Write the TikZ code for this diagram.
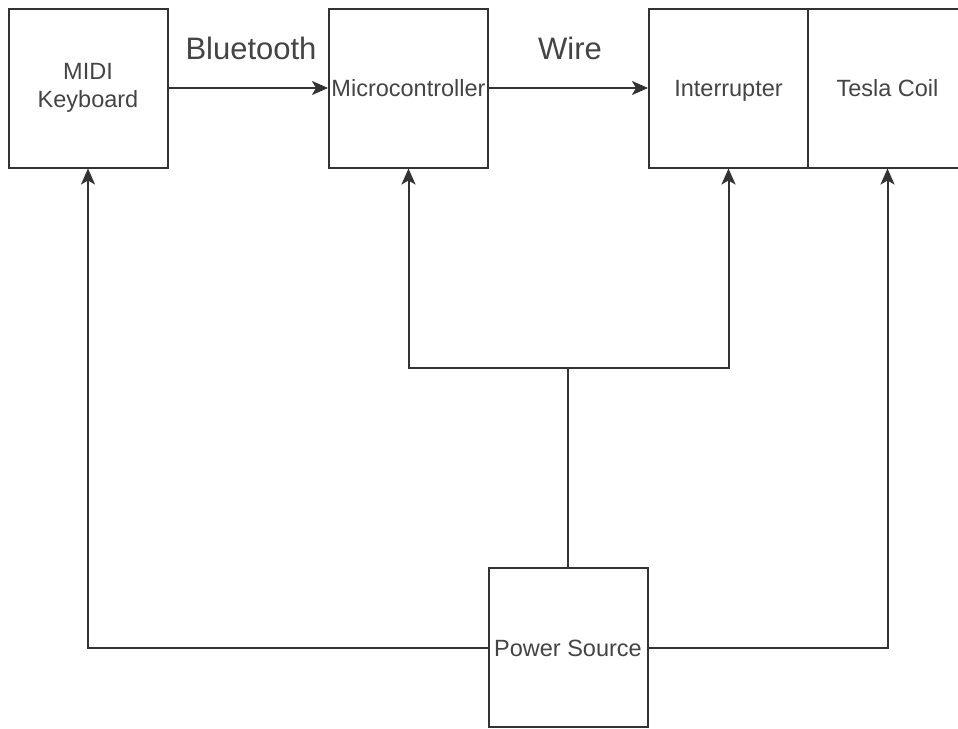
\documentclass[tikz,border=0pt]{standalone}
\usepackage{fontspec}
\setmainfont{Liberation Sans}
\usetikzlibrary{arrows.meta}
\definecolor{linec}{HTML}{333333}
\definecolor{textc}{HTML}{444444}
\begin{document}
\begin{tikzpicture}[x=1pt,y=-1pt,
  box/.style={draw=linec, line width=2pt, fill=white, minimum width=159pt, minimum height=159pt, inner sep=0pt, align=center, text=textc, font=\fontsize{23.5}{28}\selectfont},
  oneline/.style={text height=20pt, text depth=3pt},
  lbl/.style={text=textc, font=\fontsize{31}{36}\selectfont, inner sep=0pt},
  conn/.style={draw=linec, line width=2pt},
  arr/.style={conn, -{Stealth[length=16pt,width=14pt,inset=4pt]}}]
\clip (0,0) rectangle (958,728);
\fill[white] (0,0) rectangle (958,728);
\node[box] (midi) at (88,88) {MIDI\\Keyboard};
\node[box, oneline] (mc) at (408.5,88) {Microcontroller};
\node[box, oneline] (int) at (728.5,88) {Interrupter};
\node[box, oneline] (tc) at (887.5,88) {Tesla Coil};
\node[box, oneline] (ps) at (568,647.5) {Power Source};
\node[lbl] (bt) at (251,48) {Bluetooth};
\node[lbl] (wire) at (570,48) {Wire};
\coordinate (j) at (568,368);
\draw[arr] (midi.east) -- (mc.west);
\draw[arr] (mc.east) -- (int.west);
\draw[conn] (ps.north) -- (j);
\draw[arr] (j) -| (mc.south);
\draw[arr] (j) -| (int.south);
\draw[arr] (ps.west) -| (midi.south);
\draw[arr] (ps.east) -| (tc.south);
\end{tikzpicture}
\end{document}
